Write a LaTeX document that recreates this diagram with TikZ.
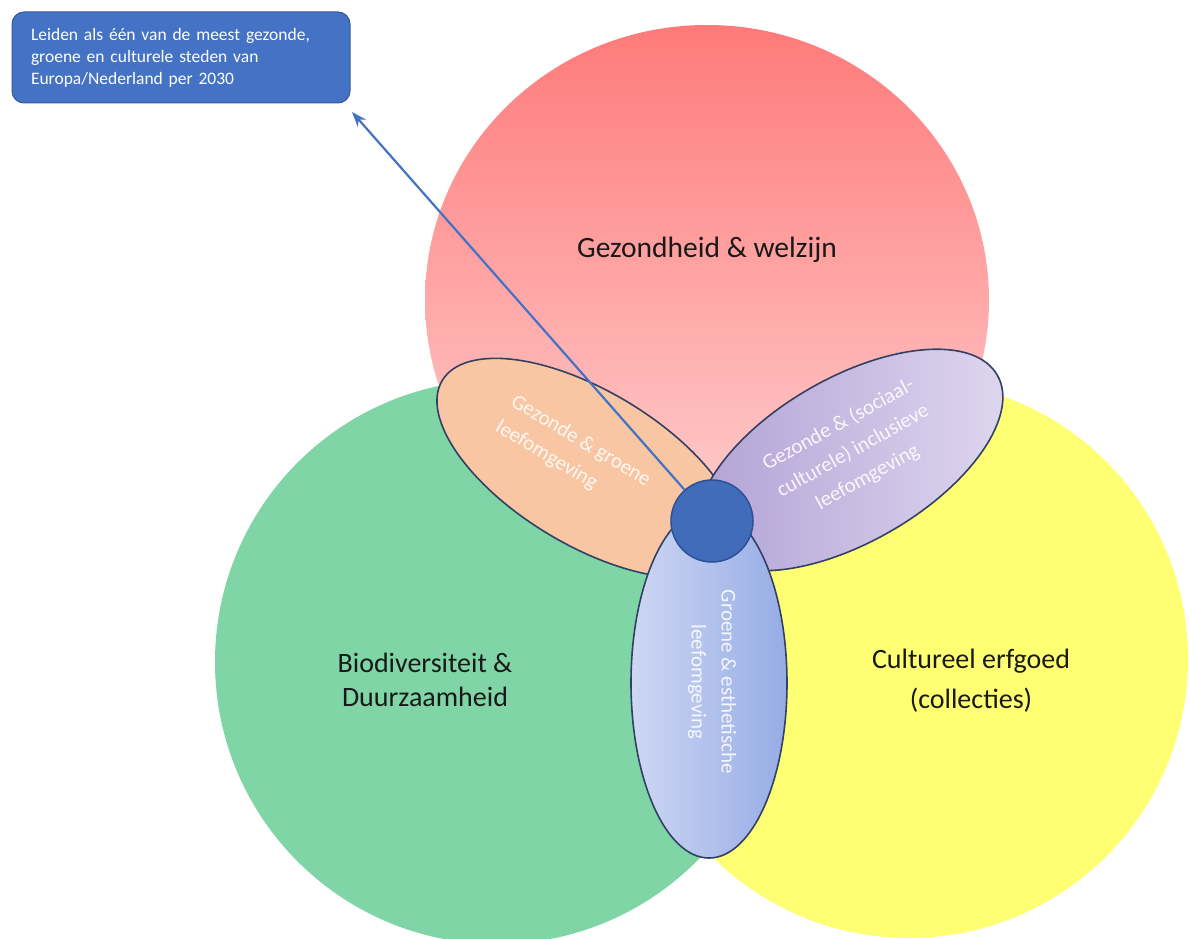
\documentclass[tikz,border=0pt]{standalone}
\usepackage{fontspec}
\setmainfont{Carlito}
\usetikzlibrary{shapes.geometric, arrows.meta, positioning}
\definecolor{vennred}{RGB}{255,122,122}
\definecolor{vennredlight}{RGB}{255,214,214}
\definecolor{venngreen}{RGB}{127,213,165}
\definecolor{vennyellow}{RGB}{255,255,115}
\definecolor{petalorange}{RGB}{248,198,162}
\definecolor{petalpurpledark}{RGB}{176,160,212}
\definecolor{petalpurplelight}{RGB}{224,216,240}
\definecolor{petalbluedark}{RGB}{150,172,230}
\definecolor{petalbluelight}{RGB}{206,215,243}
\definecolor{petaledge}{RGB}{50,64,100}
\definecolor{leidenblue}{RGB}{68,114,196}
\definecolor{leidendarkblue}{RGB}{45,80,150}

\begin{document}
\begin{tikzpicture}[
    x=1pt, y=-1pt,
    venn/.style={
        circle,
        inner sep=0pt,
        minimum size=#1
    },
    petal/.style={
        ellipse,
        draw=petaledge,
        line width=1.6pt,
        inner sep=0pt
    },
    petaltext/.style={
        text=white,
        text opacity=0.88,
        font=\fontsize{21}{30}\selectfont,
        align=center
    },
    theme/.style={
        font=\fontsize{28}{34}\selectfont,
        text=black!90,
        align=center
    },
    goal/.style={
        rectangle,
        rounded corners=12pt,
        fill=leidenblue,
        draw=leidenblue!80!black,
        line width=1pt,
        text=white,
        font=\fontsize{17.5}{22}\selectfont,
        align=left,
        text width=300pt,
        inner xsep=19pt,
        minimum height=91pt
    },
    hub/.style={
        circle,
        fill=leidenblue!95!black,
        draw=leidendarkblue,
        line width=1.5pt,
        minimum size=82pt,
        inner sep=0pt
    },
    arrow/.style={
        -{Stealth[length=15pt,width=11pt]},
        line width=2.2pt,
        leidenblue
    }
]

% Background
\useasboundingbox (0,0) rectangle (1189,939);
\fill[white] (0,0) rectangle (1189,939);
\clip (0,0) rectangle (1189,939);

% Three main circles
\node[venn=558pt, fill=vennyellow] (heritage) at (909,659) {};
\node[venn=564pt, fill=venngreen] (bio) at (497,662) {};
\node[ellipse, inner sep=0pt, minimum width=564pt, minimum height=550pt, top color=vennred, bottom color=vennredlight] (health) at (707,300) {};

\node[theme, font=\fontsize{29.5}{34}\selectfont] (healthlbl) at (707,250) {Gezondheid \& welzijn};
\node[theme] (biolbl) at (425,680) {Biodiversiteit \&\\Duurzaamheid};
\node[theme, font=\fontsize{28}{40}\selectfont] (heritagelbl) at (971,681) {Cultureel erfgoed\\(collecties)};

% Overlap petals
\node[petal, fill=petalorange, minimum width=340pt, minimum height=154pt, rotate=-31] (greenhealthy) at (588,468) {};
\node[petal, left color=petalpurpledark, right color=petalpurplelight, minimum width=340pt, minimum height=164pt, rotate=30] (inclusive) at (850,460) {};
\node[petal, left color=petalbluelight, right color=petalbluedark, minimum width=156pt, minimum height=350pt] (aesthetic) at (709,683) {};

\node[petaltext, rotate=-31, align=left] (greenhealthylbl) at (573,454) {Gezonde \& groene\\leefomgeving};
\node[petaltext, rotate=29] (inclusivelbl) at (853,451) {Gezonde \& (sociaal-\\culturele) inclusieve\\leefomgeving};
\node[petaltext, rotate=-90] (aestheticlbl) at (712,682) {Groene \& esthetische\\leefomgeving};

% Goal box and arrow
\node[goal] (goal) at (181,57.5) {Leiden als één van de meest gezonde,\\groene en culturele steden van\\Europa/Nederland per 2030};
\coordinate (goaltip) at (352,112);

\node[hub] (hub) at (712,521) {};
\draw[arrow] (hub) -- (goaltip);

\end{tikzpicture}
\end{document}
